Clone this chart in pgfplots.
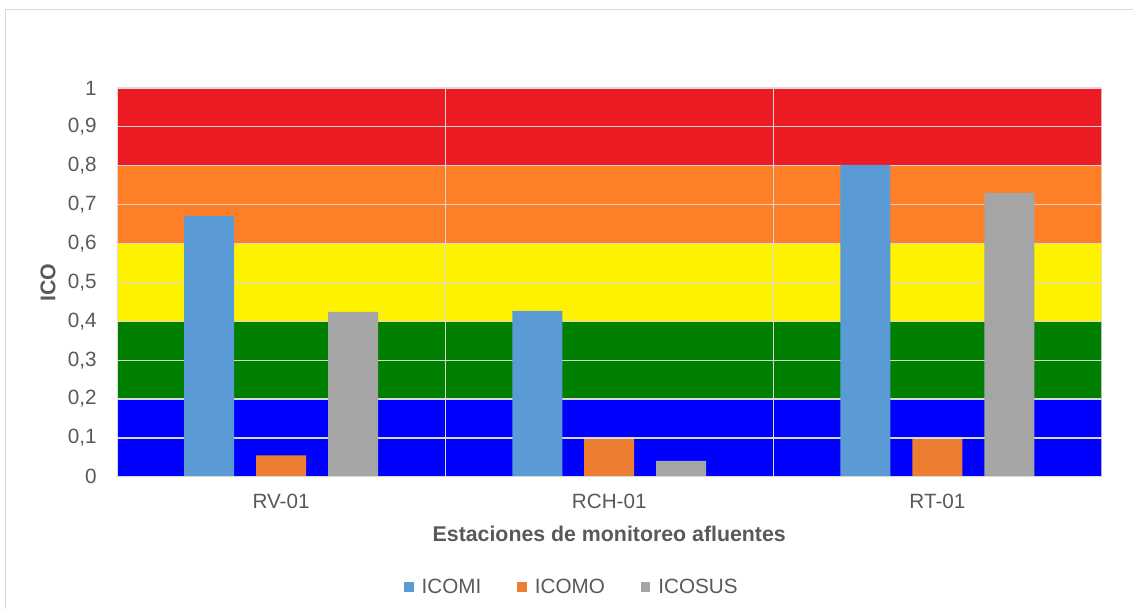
\documentclass[border=0pt]{standalone}
\usepackage{pgfplots}
\usepackage{pgfplotstable}
\pgfplotsset{compat=1.18}
\usepackage{fontspec}
\setmainfont{Liberation Sans}
\definecolor{txt}{RGB}{89,89,89}
\definecolor{grd}{RGB}{217,217,217}
\definecolor{bRed}{RGB}{237,28,36}
\definecolor{bOrange}{RGB}{255,127,39}
\definecolor{bYellow}{RGB}{255,242,0}
\definecolor{bGreen}{RGB}{0,128,0}
\definecolor{bBlue}{RGB}{0,0,255}
\definecolor{cMI}{RGB}{91,155,213}
\definecolor{cMO}{RGB}{237,125,49}
\definecolor{cSUS}{RGB}{165,165,165}
\newcommand{\chartfont}{\fontsize{15.5}{18}\selectfont}
\newcommand{\boldfont}{\fontsize{16}{19}\selectfont\bfseries}
\pgfplotstableread{
x  icomi icomo icosus
0  0.671 0.055 0.424
1  0.427 0.097 0.041
2  0.802 0.097 0.730
}\datatab
\begin{document}
\begin{tikzpicture}
\draw[grd, line width=0.75pt] (4.5pt,0) -- (4.5pt,449.6pt) -- (849.75pt,449.6pt);
\begin{axis}[
  at={(87.75pt,99pt)}, anchor=south west,
  scale only axis, width=738.75pt, height=291.75pt,
  xmin=-0.5, xmax=2.5, ymin=0, ymax=1,
  xtick={0,1,2}, xticklabels={RV-01,RCH-01,RT-01},
  ytick={0,0.1,0.2,0.3,0.4,0.5,0.6,0.7,0.8,0.9,1},
  major tick length=0pt,
  axis line style={draw=none},
  /pgf/number format/assume math mode=true,
  yticklabel={\pgfmathprintnumber[fixed, precision=1, use comma]{\tick}},
  yticklabel style={font=\chartfont, text=txt, anchor=east, inner sep=0pt, xshift=-15pt},
  xticklabel style={font=\chartfont, text=txt, anchor=base, inner sep=0pt, yshift=-24pt},
  xlabel={Estaciones de monitoreo afluentes},
  ylabel={ICO},
  xlabel style={font=\boldfont, text=txt, at={(axis description cs:0.5,-0.167)}, anchor=base, inner sep=0pt},
  ylabel style={font=\boldfont, text=txt, at={(axis description cs:-0.070,0.5)}, anchor=center, inner sep=0pt},
  legend columns=3,
  legend image code/.code={\fill[#1] (0pt,-3.6pt) rectangle (7.2pt,3.6pt);},
  legend style={draw=none, fill=none, font=\chartfont, text=txt,
    at={(axis description cs:0.461,-0.283)}, anchor=center,
    nodes={inner sep=0pt},
    /tikz/every odd column/.append style={column sep=6pt},
    /tikz/every even column/.append style={column sep=27pt}},
]
\addplot[forget plot, fill=bBlue, draw=none] coordinates {(-0.5,0) (2.5,0) (2.5,0.2) (-0.5,0.2)} -- cycle;
\addplot[forget plot, fill=bGreen, draw=none] coordinates {(-0.5,0.2) (2.5,0.2) (2.5,0.4) (-0.5,0.4)} -- cycle;
\addplot[forget plot, fill=bYellow, draw=none] coordinates {(-0.5,0.4) (2.5,0.4) (2.5,0.6) (-0.5,0.6)} -- cycle;
\addplot[forget plot, fill=bOrange, draw=none] coordinates {(-0.5,0.6) (2.5,0.6) (2.5,0.8) (-0.5,0.8)} -- cycle;
\addplot[forget plot, fill=bRed, draw=none] coordinates {(-0.5,0.8) (2.5,0.8) (2.5,1) (-0.5,1)} -- cycle;
\addplot[forget plot, grd, line width=0.9pt] coordinates {(-0.5,0.1) (2.5,0.1)};
\addplot[forget plot, grd, line width=0.9pt] coordinates {(-0.5,0.2) (2.5,0.2)};
\addplot[forget plot, grd, line width=0.9pt] coordinates {(-0.5,0.3) (2.5,0.3)};
\addplot[forget plot, grd, line width=0.9pt] coordinates {(-0.5,0.4) (2.5,0.4)};
\addplot[forget plot, grd, line width=0.9pt] coordinates {(-0.5,0.5) (2.5,0.5)};
\addplot[forget plot, grd, line width=0.9pt] coordinates {(-0.5,0.6) (2.5,0.6)};
\addplot[forget plot, grd, line width=0.9pt] coordinates {(-0.5,0.7) (2.5,0.7)};
\addplot[forget plot, grd, line width=0.9pt] coordinates {(-0.5,0.8) (2.5,0.8)};
\addplot[forget plot, grd, line width=0.9pt] coordinates {(-0.5,0.9) (2.5,0.9)};
\addplot[forget plot, grd, line width=0.9pt] coordinates {(-0.5,1) (2.5,1)};
\addplot[forget plot, grd, line width=0.9pt] coordinates {(-0.5,0) (-0.5,1)};
\addplot[forget plot, grd, line width=0.9pt] coordinates {(0.5,0) (0.5,1)};
\addplot[forget plot, grd, line width=0.9pt] coordinates {(1.5,0) (1.5,1)};
\addplot[forget plot, grd, line width=0.9pt] coordinates {(2.5,0) (2.5,1)};
\addplot[ybar, bar width=37.5pt, bar shift=-54pt, fill=cMI, draw=none] table[x=x, y=icomi] {\datatab};
\addplot[ybar, bar width=37.5pt, bar shift=0pt, fill=cMO, draw=none] table[x=x, y=icomo] {\datatab};
\addplot[ybar, bar width=37.5pt, bar shift=54pt, fill=cSUS, draw=none] table[x=x, y=icosus] {\datatab};
\addplot[forget plot, grd, line width=1.4pt] coordinates {(-0.5,0) (2.5,0)};
\legend{ICOMI, ICOMO, ICOSUS}
\end{axis}
\path[use as bounding box] (0,0) rectangle (849.75pt,456.75pt);
\end{tikzpicture}
\end{document}
